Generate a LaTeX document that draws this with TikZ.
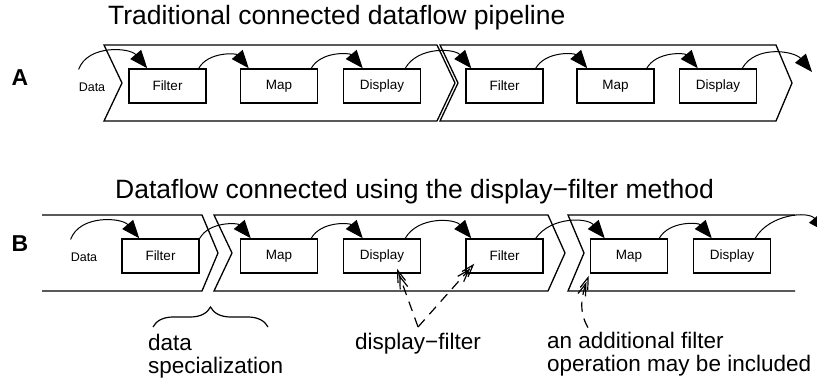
\documentclass[tikz,border=0pt]{standalone}
\usepackage{fontspec}
\setmainfont{Liberation Sans}
\usetikzlibrary{arrows.meta,decorations.pathreplacing}

\tikzset{
  band/.style={line width=1.3pt},
  stage/.style={draw, line width=1.5pt, minimum width=77pt, minimum height=34pt,
    inner sep=0pt, font=\fontsize{13.5}{16}\selectfont},
  datatext/.style={inner sep=0pt, font=\fontsize{12.5}{15}\selectfont},
  flow/.style={line width=1pt, -{Triangle[length=18pt,width=14pt]}},
  hint/.style={line width=1.2pt, dash pattern=on 10pt off 7pt,
    -{Straight Barb[length=12pt,width=8pt,sep=-8pt]Straight Barb[length=12pt,width=8pt]}},
  heading/.style={inner sep=0pt, anchor=base west, font=\fontsize{26.5}{30}\selectfont},
  caption/.style={inner sep=0pt, align=left, font=\fontsize{22.5}{23.5}\selectfont},
  rowlabel/.style={inner sep=0pt, font=\bfseries\fontsize{23}{26}\selectfont},
}

\begin{document}
\begin{tikzpicture}[x=1pt,y=1pt]
  \useasboundingbox (0,0) rectangle (817,-382);

  \node[heading] (titleA) at (108,-25) {Traditional connected dataflow pipeline};
  \node[heading] (titleB) at (115,-199) {Dataflow connected using the display−filter method};
  \node[rowlabel] (rowA) at (20,-78) {A};
  \node[rowlabel] (rowB) at (20,-244) {B};

  % A: two pipeline segments, chained
  \draw[band] (104,-45) -- (437,-45) -- (455,-83) -- (437,-121) -- (104,-121) -- (122,-83) -- cycle;
  \draw[band] (440,-45) -- (776,-45) -- (792,-83) -- (776,-121) -- (440,-121) -- (458,-83) -- cycle;

  \node[datatext] (dataA) at (92,-87) {Data};
  \node[stage] (filtA) at (167.5,-86) {Filter};
  \node[stage] (mapA) at (279,-86) {Map};
  \node[stage] (dispA) at (382,-86) {Display};
  \node[stage] (filtA2) at (504.5,-86) {Filter};
  \node[stage] (mapA2) at (615.5,-86) {Map};
  \node[stage] (dispA2) at (718,-86) {Display};
  \coordinate (outA) at (812,-72);

  \draw[flow] ([yshift=13pt]dataA.north west) to[out=70,in=130] ([xshift=19pt]filtA.north west);
  \draw[flow] ([xshift=-8pt]filtA.north east) to[out=60,in=130] ([xshift=9pt]mapA.north west);
  \draw[flow] ([xshift=-7pt]mapA.north east) to[out=60,in=130] ([xshift=20pt]dispA.north west);
  \draw[flow] ([xshift=-16pt]dispA.north east) to[out=60,in=130] ([xshift=6pt]filtA2.north west);
  \draw[flow] ([xshift=-8pt]filtA2.north east) to[out=60,in=130] ([xshift=11pt]mapA2.north west);
  \draw[flow] ([xshift=-8pt]mapA2.north east) to[out=60,in=130] ([xshift=19pt]dispA2.north west);
  \draw[flow] ([xshift=-15pt]dispA2.north east) to[out=60,in=130] (outA);

  % B: segments split at the display-filter pairs
  \draw[band] (42,-215) -- (202,-215) -- (218,-253) -- (202,-291) -- (42,-291);
  \draw[band] (214,-215) -- (548,-215) -- (565,-253) -- (548,-291) -- (214,-291) -- (232,-253) -- cycle;
  \draw[band] (795,-215) -- (568,-215) -- (584,-253) -- (568,-291) -- (795,-291);

  \node[datatext] (dataB) at (84,-257) {Data};
  \node[stage] (filtB) at (160.5,-256) {Filter};
  \node[stage] (mapB) at (279,-256) {Map};
  \node[stage] (dispB) at (382,-256) {Display};
  \node[stage] (filtB2) at (504.5,-256) {Filter};
  \node[stage] (mapB3) at (629,-256) {Map};
  \node[stage] (dispB3) at (732,-256) {Display};
  \coordinate (outB) at (826,-232);

  \draw[flow] ([yshift=13pt]dataB.north west) to[out=70,in=130] ([xshift=18pt]filtB.north west);
  \draw[flow] (filtB.north east) to[out=60,in=130] ([xshift=11pt]mapB.north west);
  \draw[flow] ([xshift=-7pt]mapB.north east) to[out=60,in=130] ([xshift=20pt]dispB.north west);
  \draw[flow] ([xshift=-16pt]dispB.north east) to[out=60,in=130] ([xshift=6pt]filtB2.north west);
  \draw[flow] ([xshift=-8pt]filtB2.north east) to[out=55,in=130] ([xshift=15pt]mapB3.north west);
  \draw[flow] ([xshift=-9pt]mapB3.north east) to[out=60,in=130] ([xshift=19pt]dispB3.north west);
  \draw[flow] ([xshift=-16pt]dispB3.north east) to[out=60,in=130] (outB);

  % notes under row B
  \node[caption, anchor=north west] (dsLabel) at (148,-333.6) {data\\specialization};
  \draw[line width=1.2pt, decorate, decoration={brace,amplitude=20pt}] (153,-327) -- (268,-327);

  \node[caption, anchor=base west] (dfLabel) at (355,-349) {display−filter};
  \coordinate (dfV) at ([yshift=5.5pt]dfLabel.north);
  \draw[hint] (dfV) -- ([xshift=15pt,yshift=5pt]dispB.south);
  \draw[hint] (dfV) -- ([xshift=9pt,yshift=10pt]filtB2.south west);

  \node[caption, anchor=north west] (addLabel) at (547,-331.6) {an additional filter\\operation may be included};
  \coordinate (addV) at ([xshift=41pt,yshift=4pt]addLabel.north west);
  \draw[hint] (addV) to[out=120,in=250] ([xshift=-1pt,yshift=-2pt]mapB3.south west);
\end{tikzpicture}
\end{document}
